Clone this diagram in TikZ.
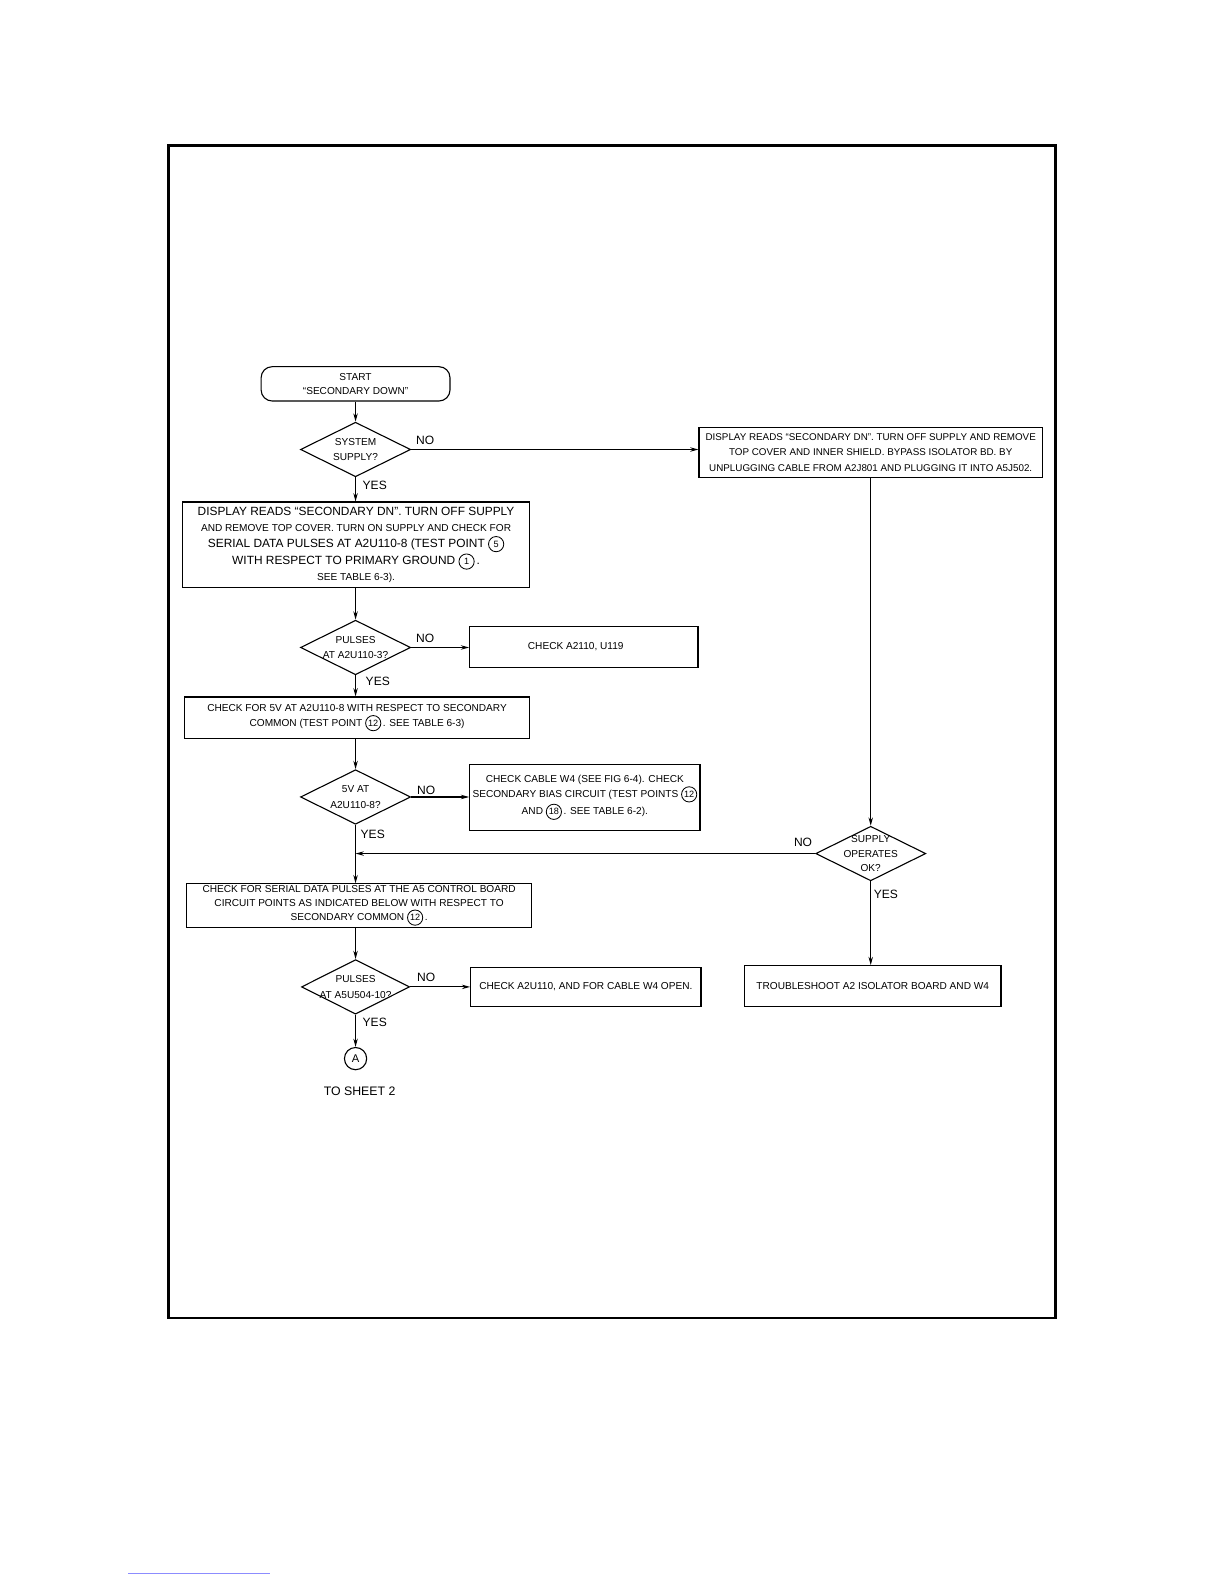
\documentclass[tikz,border=0pt]{standalone}
\usepackage{fontspec}
\setmainfont{Liberation Sans}
\usetikzlibrary{shapes.geometric,arrows.meta}
\newlength\U
\setlength\U{0.0101in}
\newcommand\cn[1]{\tikz[baseline=(cc.base)]\node[circle,draw,line width=0.6pt,inner sep=0pt,minimum size=11pt,align=center,font=\fontsize{6.6}{7}\selectfont] (cc) {#1};}
\newcommand\biglinefont{\fontsize{8.6}{11.4}\selectfont}
\begin{document}
\begin{tikzpicture}[x=\U,y=-\U,
  ln/.style={line width=0.8pt},
  arr/.style={ln,-{Stealth[length=6pt,width=3.2pt]}},
  box/.style={draw,ln,rectangle,inner sep=0pt,align=center,font=\fontsize{7.3}{10.9}\selectfont},
  startbox/.style={draw,ln,rectangle,rounded corners=8pt,inner sep=0pt,align=center,font=\fontsize{7.3}{10.1}\selectfont},
  dia/.style={draw,ln,diamond,inner sep=0pt,minimum width=109\U,minimum height=54\U},
  dtext/.style={align=center,font=\fontsize{7.3}{11.5}\selectfont},
  lab/.style={font=\fontsize{8.7}{9}\selectfont,inner sep=0pt}]
\useasboundingbox (0in,0in) rectangle (12.24in,-15.84in);
\draw[line width=1.8pt] (167,144) rectangle (1045,1305);

% left column
\node[startbox,minimum width=187\U,minimum height=34\U] (s) at (352,380) {START\\``SECONDARY DOWN''};
\node[dia,label={[dtext]center:{SYSTEM\\SUPPLY?}}] (d1) at (352,445) {};
\node[box,minimum width=343\U,minimum height=85\U,font=\fontsize{7.3}{11.4}\selectfont] (b1) at (352.5,539.5)
 {{\biglinefont DISPLAY READS ``SECONDARY DN''. TURN OFF SUPPLY}\\
  AND REMOVE TOP COVER. TURN ON SUPPLY AND CHECK FOR\\
  {\biglinefont SERIAL DATA PULSES AT A2U110-8 (TEST POINT \cn{5}}\\
  {\biglinefont WITH RESPECT TO PRIMARY GROUND \cn{1}\,.}\\
  SEE TABLE 6-3).};
\node[dia,label={[dtext]center:{PULSES\\AT A2U110-3?}}] (d2) at (352,641) {};
\node[box,minimum width=226\U,minimum height=41\U] (b2) at (578,640.5) {CHECK A2110, U119\hspace{16\U}};
\node[box,minimum width=341\U,minimum height=41\U] (b3) at (353.5,710.5)
 {CHECK FOR 5V AT A2U110-8 WITH RESPECT TO SECONDARY\\COMMON (TEST POINT \cn{12}\,. SEE TABLE 6-3)};
\node[dia,label={[dtext]center:{5V AT\\A2U110-8?}}] (d3) at (352,789) {};
\node[box,minimum width=228\U,minimum height=65\U] (b4) at (579,789.5)
 {CHECK CABLE W4 (SEE FIG 6-4). CHECK\\SECONDARY BIAS CIRCUIT (TEST POINTS \cn{12}\\AND \cn{18}\,. SEE TABLE 6-2).};
\node[box,minimum width=341\U,minimum height=43\U,font=\fontsize{7.3}{10.2}\selectfont] (b5) at (355.5,896.5)
 {CHECK FOR SERIAL DATA PULSES AT THE A5 CONTROL BOARD\\CIRCUIT POINTS AS INDICATED BELOW WITH RESPECT TO\\SECONDARY COMMON \cn{12}\,.};
\node[dia,minimum width=107\U,label={[dtext]center:{PULSES\\AT A5U504-10?}}] (d4) at (352,977) {};
\node[box,minimum width=228\U,minimum height=38\U] (b6) at (580,977) {CHECK A2U110, AND FOR CABLE W4 OPEN.};
\node[draw,ln,circle,minimum size=22\U,inner sep=0pt,font=\fontsize{8.1}{9}\selectfont] (A) at (352,1048) {A};
\node[lab,font=\fontsize{8.9}{10}\selectfont] (ts) at (356,1080) {TO SHEET 2};

% right column
\node[box,minimum width=340\U,minimum height=50\U,font=\fontsize{7.1}{11.4}\selectfont] (rb) at (862,448)
 {DISPLAY READS ``SECONDARY DN''. TURN OFF SUPPLY AND REMOVE\\TOP COVER AND INNER SHIELD. BYPASS ISOLATOR BD. BY\\UNPLUGGING CABLE FROM A2J801 AND PLUGGING IT INTO A5J502.};
\node[dia,label={[dtext,font=\fontsize{7.3}{10.3}\selectfont]center:{SUPPLY\\OPERATES\\OK?}}] (d5) at (862,845) {};
\node[box,minimum width=254\U,minimum height=40\U] (b7) at (864,976) {TROUBLESHOOT A2 ISOLATOR BOARD AND W4};

% labels
\node[lab] (n1) at (421,436) {NO};
\node[lab] (y1) at (371,480) {YES};
\node[lab] (n2) at (421,632) {NO};
\node[lab] (y2) at (374,675) {YES};
\node[lab] (n3) at (422,782) {NO};
\node[lab] (y3) at (369,826) {YES};
\node[lab] (n4) at (422,968) {NO};
\node[lab] (y4) at (371,1012) {YES};
\node[lab] (n5) at (795,834) {NO};
\node[lab] (y5) at (877,885) {YES};

% connectors
\draw[arr] (s.south) -- (s.south |- d1.north);
\draw[arr] (d1.east) -- (d1.east -| rb.west);
\draw[arr] (d1.south) -- (d1.south |- b1.north);
\draw[arr] (d1.south |- b1.south) -- (d2.north);
\draw[arr] (d2.east) -- (d2.east -| b2.west);
\draw[arr] (d2.south) -- (d2.south |- b3.north);
\draw[arr] (d2.south |- b3.south) -- (d3.north);
\draw[arr] (d3.east) -- (d3.east -| b4.west);
\draw[arr] (d3.south) -- (d3.south |- b5.north);
\draw[arr] (d3.south |- b5.south) -- (d4.north);
\draw[arr] (d4.east) -- (d4.east -| b6.west);
\draw[arr] (d4.south) -- (A.north);
\draw[arr] (rb.south -| d5.north) -- (d5.north);
\draw[arr] (d5.west) -- (d5.west -| d3.south);
\draw[arr] (d5.south) -- (d5.south |- b7.north);

% hyperlink underline at the foot of the page
\draw[blue!45,line width=0.8pt] (127,1558) -- (267,1558);
\end{tikzpicture}
\end{document}
